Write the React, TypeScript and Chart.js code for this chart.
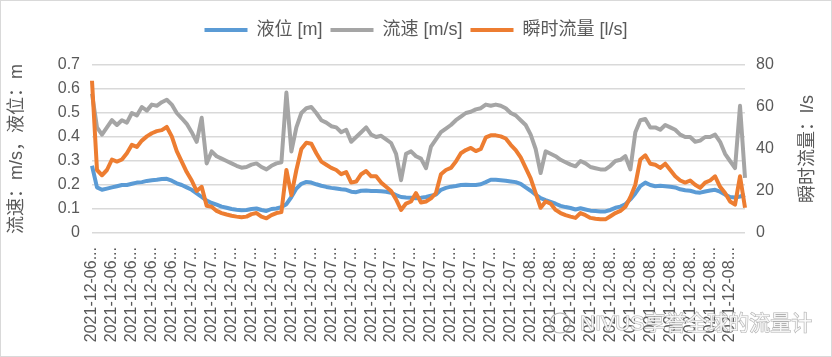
import React, { useEffect, useRef } from 'react';
import { Chart, registerables } from 'chart.js';

Chart.register(...registerables);

// ---- data ----
const tickLabels = [
  '2021-12-06...', '2021-12-06...', '2021-12-06...', '2021-12-06...', '2021-12-06...',
  '2021-12-07...', '2021-12-07...', '2021-12-07...', '2021-12-07...', '2021-12-07...',
  '2021-12-07...', '2021-12-07...', '2021-12-07...', '2021-12-07...', '2021-12-07...',
  '2021-12-07...', '2021-12-07...', '2021-12-07...', '2021-12-07...', '2021-12-07...',
  '2021-12-07...', '2021-12-07...',
  '2021-12-08...', '2021-12-08...', '2021-12-08...', '2021-12-08...', '2021-12-08...',
  '2021-12-08...', '2021-12-08...', '2021-12-08...', '2021-12-08...', '2021-12-08...',
  '2021-12-08...',
];
const pointsPerLabel = 4;

const seriesNames = ['液位 [m]', '流速 [m/s]', '瞬时流量 [l/s]'];

// 液位 [m] (left axis)
const levelM = [
  0.28, 0.19, 0.18, 0.185, 0.19, 0.195, 0.2, 0.2, 0.205, 0.21,
  0.212, 0.217, 0.22, 0.222, 0.225, 0.226, 0.218, 0.207, 0.2, 0.19,
  0.18, 0.165, 0.15, 0.135, 0.125, 0.118, 0.11, 0.105, 0.1, 0.097,
  0.095, 0.096, 0.1, 0.102, 0.096, 0.092, 0.1, 0.102, 0.108, 0.12,
  0.15, 0.185, 0.205, 0.213, 0.21, 0.203, 0.197, 0.192, 0.188, 0.185,
  0.182, 0.18, 0.172, 0.17, 0.176, 0.177, 0.175, 0.175, 0.174, 0.172,
  0.168, 0.158, 0.15, 0.148, 0.147, 0.145, 0.147, 0.15, 0.155, 0.16,
  0.18, 0.188, 0.193, 0.196, 0.2, 0.201, 0.2, 0.2, 0.203, 0.212,
  0.222, 0.222, 0.22, 0.218, 0.215, 0.212, 0.205, 0.19, 0.176, 0.16,
  0.145, 0.137, 0.13, 0.122, 0.113, 0.108, 0.104, 0.098, 0.103, 0.098,
  0.093, 0.092, 0.09, 0.09, 0.096, 0.105, 0.11, 0.12, 0.14, 0.165,
  0.195, 0.21, 0.2, 0.195, 0.197, 0.195, 0.193, 0.19, 0.182, 0.178,
  0.176, 0.17, 0.168, 0.173, 0.177, 0.18, 0.172, 0.16, 0.15, 0.148, 0.152, 0.158,
];

// 流速 [m/s] (left axis)
const velocityMs = [
  0.58, 0.44, 0.41, 0.44, 0.47, 0.45, 0.47, 0.46, 0.5, 0.49,
  0.525, 0.51, 0.535, 0.53, 0.545, 0.555, 0.535, 0.5, 0.478, 0.455,
  0.42, 0.38, 0.48, 0.29, 0.34, 0.32, 0.31, 0.3, 0.29, 0.28,
  0.272, 0.275, 0.285, 0.29, 0.275, 0.265, 0.28, 0.29, 0.295, 0.585,
  0.34, 0.44, 0.5, 0.52, 0.525, 0.5, 0.47, 0.46, 0.445, 0.44,
  0.42, 0.43, 0.38, 0.4, 0.42, 0.44, 0.41, 0.4, 0.405, 0.39,
  0.375, 0.33, 0.22, 0.33, 0.34, 0.32, 0.31, 0.27, 0.36, 0.39,
  0.42, 0.435, 0.45, 0.47, 0.485, 0.5, 0.505, 0.515, 0.52, 0.535,
  0.53, 0.535, 0.53, 0.52, 0.5, 0.49, 0.47, 0.45, 0.41, 0.35,
  0.25, 0.34, 0.33, 0.32, 0.305, 0.295, 0.285, 0.278, 0.3, 0.29,
  0.275, 0.27, 0.265, 0.265, 0.28, 0.3, 0.305, 0.32, 0.265, 0.42,
  0.47, 0.475, 0.44, 0.44, 0.43, 0.45, 0.44, 0.43, 0.41, 0.4,
  0.4, 0.38, 0.385, 0.4, 0.4, 0.41, 0.38, 0.33, 0.3, 0.27, 0.53, 0.23,
];

// 瞬时流量 [l/s] (right axis)
const flowLs = [
  72.5, 30, 27.5, 30, 35, 34, 35, 38, 42, 41,
  44, 46, 47.5, 48.5, 49, 50.5, 46, 39, 34, 29,
  25, 20, 22, 13, 12.5, 10.5, 9.5, 8.8, 8.2, 7.8,
  7.5, 7.8, 9, 9.5, 7.8, 7, 8.5, 9.5, 10, 30,
  18, 30, 40, 43, 42.5, 38, 34, 32.5, 31, 30,
  28, 29, 24, 24.5, 28, 29.5, 27, 27, 24, 22,
  20, 16, 11, 14, 15, 19, 14.5, 15, 16.5, 19,
  28, 30, 31, 34, 38, 39.5, 40.5, 39, 40, 45.5,
  46.5, 46.5, 46, 45, 42, 39.5, 36, 31, 26, 19,
  12, 15, 14, 11, 9.5, 8.5, 7.8, 7.2, 9.5, 8.5,
  7.2, 6.8, 6.5, 6.5, 8, 9.5, 10.5, 12.5, 17, 23,
  35, 37, 33, 32.5, 31, 33, 30, 27, 25, 24,
  25, 23, 21.5, 24, 25, 27, 22, 19, 15, 13.5, 27, 12,
];

const leftTitle = '流速：m/s，液位：m';
const rightTitle = '瞬时流量：l/s';
const watermark = 'NIVUS享誉全球的流量计';

// ---- styles ----
const TEXT = '#595959';
const FONT = "'Liberation Sans', 'Noto Sans CJK SC', sans-serif";
const BLUE = '#5B9BD5';
const GRAY = '#A5A5A5';
const ORANGE = '#ED7D31';

const decorPlugin = {
  id: 'decor',
  afterLayout(chart: any) {
    const l = chart.legend;
    if (l) {
      const h = l.bottom - l.top;
      l.top = 13;
      l.bottom = 13 + h;
    }
  },
  afterDraw(chart: any) {
    const { ctx, chartArea, width, height } = chart;
    const cy = (chartArea.top + chartArea.bottom) / 2;
    ctx.save();
    ctx.fillStyle = TEXT;
    ctx.font = `18px ${FONT}`;
    ctx.textAlign = 'center';
    ctx.textBaseline = 'middle';
    ctx.save();
    ctx.translate(17, cy);
    ctx.rotate(-Math.PI / 2);
    ctx.fillText(leftTitle, 0, 0);
    ctx.restore();
    ctx.save();
    ctx.translate(808, cy);
    ctx.rotate(-Math.PI / 2);
    ctx.fillText(rightTitle, 0, 0);
    ctx.restore();

    // watermark
    ctx.font = `21px ${FONT}`;
    ctx.textAlign = 'left';
    ctx.lineWidth = 1.2;
    ctx.strokeStyle = 'rgba(150,150,150,0.75)';
    ctx.fillStyle = 'rgba(255,255,255,0.85)';
    ctx.strokeText(watermark, 580, 324);
    ctx.fillText(watermark, 580, 324);
    ctx.beginPath();
    ctx.arc(560, 323, 10, 0, Math.PI * 2);
    ctx.stroke();

    // outer border
    ctx.strokeStyle = '#d9d9d9';
    ctx.lineWidth = 1;
    ctx.strokeRect(0.5, 0.5, width - 1, height - 1);
    ctx.restore();
  },
};

export default function App() {
  const ref = useRef<HTMLCanvasElement | null>(null);

  useEffect(() => {
    document.body.style.margin = '0';
    const canvas = ref.current;
    if (!canvas) return;
    const labels = levelM.map((_, i) => tickLabels[Math.floor(i / pointsPerLabel)]);
    const common = {
      pointRadius: 0,
      borderWidth: 4,
      tension: 0,
      borderJoinStyle: 'round' as const,
      pointStyle: 'line' as const,
    };
    const chart = new Chart(canvas, {
      type: 'line',
      data: {
        labels,
        datasets: [
          { ...common, label: seriesNames[0], data: levelM, borderColor: BLUE, backgroundColor: BLUE, yAxisID: 'y', order: 3 },
          { ...common, label: seriesNames[1], data: velocityMs, borderColor: GRAY, backgroundColor: GRAY, yAxisID: 'y', order: 2 },
          { ...common, label: seriesNames[2], data: flowLs, borderColor: ORANGE, backgroundColor: ORANGE, yAxisID: 'y1', order: 1 },
        ],
      },
      options: {
        responsive: false,
        animation: false,
        layout: { padding: { top: 12, left: 0, right: 0, bottom: 0 } },
        plugins: {
          legend: {
            position: 'top',
            labels: {
              usePointStyle: true,
              pointStyle: 'line',
              pointStyleWidth: 43,
              padding: 8,
              color: TEXT,
              font: { size: 18, family: FONT },
              sort: (a: any, b: any) => a.datasetIndex - b.datasetIndex,
            },
          },
          tooltip: { enabled: false },
        },
        scales: {
          x: {
            type: 'category',
            grid: { display: false, drawTicks: false },
            border: { display: false },
            ticks: {
              autoSkip: false,
              minRotation: 90,
              maxRotation: 90,
              padding: 14,
              color: TEXT,
              font: { size: 16, family: FONT },
              callback: function (this: any, value: any, index: number) {
                return index % pointsPerLabel === 0 ? this.getLabelForValue(value) : '';
              },
            },
            afterFit: (s: any) => {
              s.height = 124;
            },
          },
          y: {
            position: 'left',
            min: 0,
            max: 0.7,
            ticks: { stepSize: 0.1, color: TEXT, font: { size: 16, family: FONT }, padding: 12 },
            grid: { color: '#d9d9d9', lineWidth: 1.5, drawTicks: false },
            border: { display: false },
            afterFit: (s: any) => {
              s.width = 92;
              s.paddingTop = 65;
            },
          },
          y1: {
            position: 'right',
            min: 0,
            max: 80,
            ticks: { stepSize: 10, color: TEXT, font: { size: 16, family: FONT }, padding: 11 },
            grid: { display: false, drawTicks: false },
            border: { display: false },
            afterFit: (s: any) => {
              s.width = 87;
            },
          },
        },
      },
      plugins: [decorPlugin],
    } as any);
    return () => chart.destroy();
  }, []);

  return (
    <div style={{ width: 832, height: 357 }}>
      <canvas ref={ref} width={832} height={357} style={{ display: 'block' }} />
    </div>
  );
}
